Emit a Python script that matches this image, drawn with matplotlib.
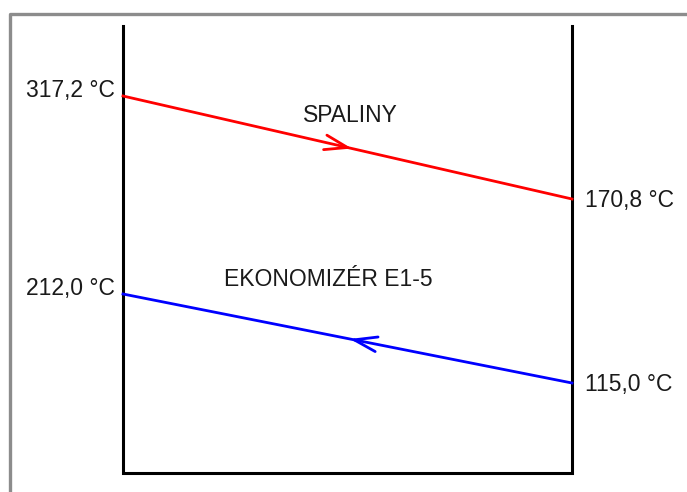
import numpy as np
import matplotlib
matplotlib.use("Agg")
import matplotlib.pyplot as plt

plt.rcParams["font.family"] = ["Liberation Sans", "DejaVu Sans"]

# stream data
stream_names = ["SPALINY", "EKONOMIZÉR E1-5"]
temp_left = [317.2, 212.0]
temp_right = [170.8, 115.0]
flow_dir = [1, -1]  # +1 = left -> right, -1 = right -> left
stream_colors = ["#ff0000", "#0000ff"]

# schematic layout (pixel space, y down)
W, H = 687, 492
x_left, x_right = 123, 572
y_top, y_bottom = 26, 473
y_left = [96, 294]
y_right = [199, 383]
name_pos = [(350, 116), (328, 280)]


def fmt(t):
    return f"{t:.1f}".replace(".", ",") + " °C"


def chevron(ax, p0, p1, frac, direction, color, length=24, angle=18):
    p0 = np.array(p0, float)
    p1 = np.array(p1, float)
    tip = p0 + frac * (p1 - p0)
    d = (p1 - p0) / np.linalg.norm(p1 - p0) * direction
    back = -d
    for a in (angle, -angle):
        r = np.radians(a)
        rot = np.array([[np.cos(r), -np.sin(r)], [np.sin(r), np.cos(r)]])
        arm = tip + length * rot @ back
        ax.plot([tip[0], arm[0]], [tip[1], arm[1]], color=color, lw=2.0,
                solid_capstyle="round")


fig = plt.figure(figsize=(W / 100, H / 100), dpi=100)
ax = fig.add_axes([0, 0, 1, 1])
ax.set_xlim(0, W)
ax.set_ylim(H, 0)
ax.axis("off")

# outer gray frame
ax.plot([10, 10, W + 5], [H + 5, 14, 14], color="#8c8c8c", lw=2.4)

# exchanger box (open top)
ax.plot([x_left, x_left, x_right, x_right], [y_top, y_bottom, y_bottom, y_top],
        color="black", lw=2.2, solid_joinstyle="miter")

fs = 16.5
for i, name in enumerate(stream_names):
    c = stream_colors[i]
    ax.plot([x_left, x_right], [y_left[i], y_right[i]], color=c, lw=2.0)
    chevron(ax, (x_left, y_left[i]), (x_right, y_right[i]), 0.5 if flow_dir[i] > 0 else 0.515,
            flow_dir[i], c)
    ax.text(x_left - 8, y_left[i] - 5, fmt(temp_left[i]), ha="right", va="center",
            fontsize=fs, color="#1a1a1a")
    ax.text(x_right + 13, y_right[i] + 1, fmt(temp_right[i]), ha="left", va="center",
            fontsize=fs, color="#1a1a1a")
    ax.text(name_pos[i][0], name_pos[i][1], name, ha="center", va="center",
            fontsize=fs, color="#1a1a1a")

fig.savefig("out.png", dpi=100, facecolor="white")
